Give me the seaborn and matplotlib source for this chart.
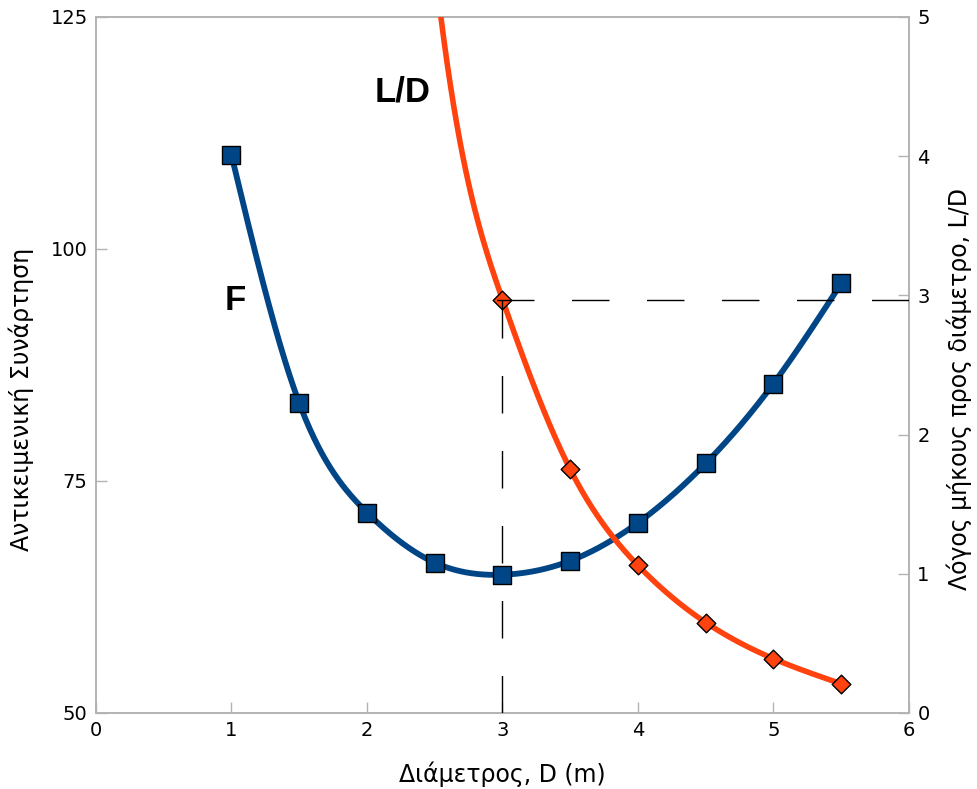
import numpy as np
import pandas as pd
import matplotlib
matplotlib.use("Agg")
import matplotlib.pyplot as plt
import seaborn as sns

# ---- data ----
diameter = [1.0, 1.5, 2.0, 2.5, 3.0, 3.5, 4.0, 4.5, 5.0, 5.5]
objective_F = [110.1, 83.4, 71.6, 66.2, 64.9, 66.4, 70.5, 76.9, 85.5, 96.3]
ratio_LD = [88.6, 26.0, 10.8, 5.37, 2.97, 1.75, 1.06, 0.65, 0.39, 0.21]
opt_D = 3.0
opt_LD = 2.97
x_ticks = [0, 1, 2, 3, 4, 5, 6]
left_ticks = [50, 75, 100, 125]
right_ticks = [0, 1, 2, 3, 4, 5]

blue = "#004586"
orange = "#ff420e"
spine_col = "#b3b3b3"


def natural_spline(x, y, xs):
    x = np.asarray(x, float)
    y = np.asarray(y, float)
    n = len(x)
    h = np.diff(x)
    A = np.zeros((n, n))
    r = np.zeros(n)
    A[0, 0] = 1
    A[-1, -1] = 1
    for i in range(1, n - 1):
        A[i, i - 1] = h[i - 1]
        A[i, i] = 2 * (h[i - 1] + h[i])
        A[i, i + 1] = h[i]
        r[i] = 3 * ((y[i + 1] - y[i]) / h[i] - (y[i] - y[i - 1]) / h[i - 1])
    c = np.linalg.solve(A, r)
    b = (y[1:] - y[:-1]) / h - h * (2 * c[:-1] + c[1:]) / 3
    d = (c[1:] - c[:-1]) / (3 * h)
    idx = np.clip(np.searchsorted(x, xs) - 1, 0, n - 2)
    dx = xs - x[idx]
    return y[idx] + b[idx] * dx + c[idx] * dx ** 2 + d[idx] * dx ** 3


sns.set_style("ticks")
plt.rcParams["font.family"] = ["DejaVu Sans"]
plt.rcParams["text.color"] = "black"

fig = plt.figure(figsize=(9.78, 7.89), dpi=100)
ax = fig.add_axes([96 / 978, 1 - 713 / 789, (909 - 96) / 978, (713 - 17) / 789])
ax2 = ax.twinx()

xs = np.linspace(diameter[0], diameter[-1], 600)
df_pts = pd.DataFrame({"D": diameter, "F": objective_F, "LD": ratio_LD})
df_F = pd.DataFrame({"D": xs, "F": natural_spline(diameter, objective_F, xs)})
df_LD = pd.DataFrame({"D": xs, "LD": natural_spline(diameter, ratio_LD, xs)})

sns.lineplot(data=df_F, x="D", y="F", ax=ax, color=blue, lw=4.2, zorder=3,
             solid_capstyle="butt")
sns.scatterplot(data=df_pts, x="D", y="F", ax=ax, marker="s", s=13.5 ** 2,
                color=blue, edgecolor="black", linewidth=1, zorder=4)

sns.lineplot(data=df_LD, x="D", y="LD", ax=ax2, color=orange, lw=4.0, zorder=3)
sns.scatterplot(data=df_pts, x="D", y="LD", ax=ax2, marker="D", s=9.5 ** 2,
                color=orange, edgecolor="black", linewidth=1, zorder=4)

# dashed guide lines at the optimum
ax2.plot([opt_D, opt_D], [0, opt_LD], color="black", lw=1.0,
         dashes=(27, 27), zorder=5)
ax2.plot([6, 2.9], [opt_LD, opt_LD], color="black", lw=1.0,
         dashes=(27, 27), zorder=5)

ax.set_xlim(0, 6)
ax.set_ylim(50, 125)
ax2.set_ylim(0, 5)
ax.set_xticks(x_ticks)
ax.set_yticks(left_ticks)
ax2.set_yticks(right_ticks)

for a in (ax, ax2):
    for s in a.spines.values():
        s.set_color(spine_col)
        s.set_linewidth(1.2)
    a.tick_params(direction="in", length=8, width=1, color=spine_col,
                  labelsize=14, labelcolor="black", pad=6)
ax.tick_params(axis="x", pad=6)

ax.set_xlabel("Διάμετρος, D (m)", fontsize=17, labelpad=15, color="black")
ax.set_ylabel("Αντικειμενική Συνάρτηση", fontsize=17, labelpad=12, color="black")
ax2.set_ylabel("Λόγος μήκους προς διάμετρο, L/D", fontsize=17, labelpad=12,
               rotation=90, color="black")
ax.yaxis.label.set_y(0.45)
ax2.yaxis.label.set_y(0.465)

ax.text(1.026, 94.5, "F", fontsize=25, fontweight="bold", color="black",
        family="Liberation Sans", ha="center", va="center")
ax.text(2.26, 116.9, "L/D", fontsize=25, fontweight="bold", color="black",
        family="Liberation Sans", ha="center", va="center")

fig.savefig("out.png", dpi=100)
